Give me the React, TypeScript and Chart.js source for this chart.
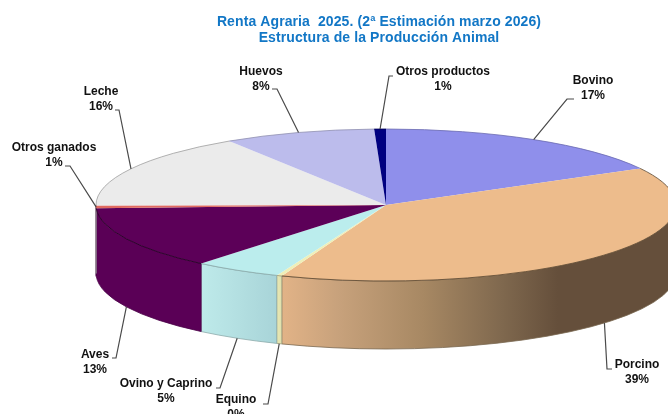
import React, { useEffect, useRef } from "react";
import { Chart, registerables } from "chart.js";

Chart.register(...registerables);

const categories = ["Bovino", "Porcino", "Equino", "Ovino y Caprino", "Aves", "Otros ganados", "Leche", "Huevos", "Otros productos"];
const shares = [17.0, 38.85, 0.3, 4.85, 13.3, 0.6, 16.0, 8.45, 0.65];
const shownPercent = ["17%", "39%", "0%", "5%", "13%", "1%", "16%", "8%", "1%"];
const titleLines = ["Renta Agraria  2025. (2ª Estimación marzo 2026)", "Estructura de la Producción Animal"];

const topColors = ["#8F8FEB", "#EDBC8C", "#EFEFB8", "#BBEDED", "#5C0058", "#E06A60", "#EBEBEB", "#BCBCEC", "#000080"];
const edgeColors = ["#6A6AB0", "#5A4630", "#A0A080", "#8AAAAA", "#200020", "#B05050", "#A0A0A0", "#9090B0", "#000050"];
const wallEdgeColors = ["#6A6AB0", "#7A6850", "#A0A080", "#8AAAAA", "#4A0048", "#4A0048", "#A0A0A0", "#9090B0", "#000050"];
const wallStops: string[][] = [
  ["#7A7AC8", "#7A7AC8"],
  ["#E2B387", "#C8A27C", "#A78863", "#7F684E", "#654F3B", "#654F3B"],
  ["#E8E8B4", "#E0E0AC"],
  ["#BEEAEA", "#A8D4D8"],
  ["#5A0056", "#5A0056"],
  ["#5A0056", "#5A0056"],
  ["#CCCCCC", "#CCCCCC"],
  ["#A0A0C8", "#A0A0C8"],
  ["#000060", "#000060"],
];
const wallStopAt: number[][] = [
  [0, 1], [0, 0.14, 0.36, 0.56, 0.7, 1], [0, 1], [0, 1], [0, 1], [0, 1], [0, 1], [0, 1], [0, 1],
];

// label centre (x, first line y) and the elbow of its leader line
const labelLayout = [
  { x: 593, y: 81, ex: 567, ey: 99, sx: 574 },
  { x: 637, y: 365, ex: 607, ey: 369, sx: 612 },
  { x: 236, y: 400, ex: 268, ey: 404, sx: 263 },
  { x: 166, y: 384, ex: 220, ey: 388, sx: 216 },
  { x: 95, y: 355, ex: 116, ey: 358, sx: 112 },
  { x: 54, y: 148, ex: 70, ey: 166, sx: 65 },
  { x: 101, y: 92, ex: 119, ey: 110, sx: 115 },
  { x: 261, y: 72, ex: 277, ey: 89, sx: 272 },
  { x: 443, y: 72, ex: 389, ey: 76, sx: 393 },
];

const RX = 290;
const RY = 76;
const DEPTH = 68;

const pie3d = {
  id: "pie3d",
  beforeDatasetDraw(chart: any) {
    const ctx = chart.ctx as CanvasRenderingContext2D;
    const arcs = chart.getDatasetMeta(0).data as any[];
    const cx = arcs[0].x;
    const cy = arcs[0].y;
    arcs.forEach((arc, i) => {
      const a0 = Math.max(arc.startAngle, 0);
      const a1 = Math.min(arc.endAngle, Math.PI);
      if (a1 <= a0) return;
      const xs = cx + RX * Math.cos(a0);
      const xe = cx + RX * Math.cos(a1);
      const g = ctx.createLinearGradient(Math.min(xs, xe), 0, Math.max(xs, xe), 0);
      wallStops[i].forEach((c, k) => g.addColorStop(wallStopAt[i][k], c));
      ctx.beginPath();
      ctx.ellipse(cx, cy + DEPTH, RX, RY, 0, a0, a1);
      ctx.ellipse(cx, cy, RX, RY, 0, a1, a0, true);
      ctx.closePath();
      ctx.fillStyle = g;
      ctx.fill();
      ctx.lineWidth = 0.8;
      ctx.strokeStyle = wallEdgeColors[i];
      ctx.stroke();
    });
    const r = arcs[0].outerRadius;
    ctx.save();
    ctx.translate(cx, cy);
    ctx.scale(RX / r, RY / r);
    ctx.translate(-cx, -cy);
  },
  afterDatasetDraw(chart: any) {
    const ctx = chart.ctx as CanvasRenderingContext2D;
    ctx.restore();
    const arcs = chart.getDatasetMeta(0).data as any[];
    const cx = arcs[0].x;
    const cy = arcs[0].y;
    arcs.forEach((arc, i) => {
      ctx.beginPath();
      ctx.ellipse(cx, cy, RX, RY, 0, arc.startAngle, arc.endAngle);
      ctx.lineWidth = 0.8;
      ctx.strokeStyle = edgeColors[i];
      ctx.stroke();
    });
  },
  afterDraw(chart: any) {
    const ctx = chart.ctx as CanvasRenderingContext2D;
    const arcs = chart.getDatasetMeta(0).data as any[];
    const cx = arcs[0].x;
    const cy = arcs[0].y;

    ctx.textAlign = "center";
    ctx.textBaseline = "middle";
    ctx.fillStyle = "#1277C6";
    ctx.font = "bold 14px 'Liberation Sans'";
    (ctx as any).letterSpacing = "0.1px";
    titleLines.forEach((t, i) => ctx.fillText(t, 379, 22 + i * 16));
    (ctx as any).letterSpacing = "0px";

    arcs.forEach((arc, i) => {
      const mid = (arc.startAngle + arc.endAngle) / 2;
      const ax = cx + RX * Math.cos(mid);
      const sin = Math.sin(mid);
      const ay = cy + RY * sin + (sin > 0.1 ? DEPTH : 0);
      const l = labelLayout[i];
      ctx.beginPath();
      ctx.moveTo(l.sx, l.ey);
      ctx.lineTo(l.ex, l.ey);
      ctx.lineTo(ax, ay);
      ctx.lineWidth = 1.2;
      ctx.strokeStyle = "#4A4A4A";
      ctx.stroke();

      ctx.fillStyle = "#111111";
      ctx.font = "bold 12px 'Liberation Sans'";
      ctx.fillText(categories[i], l.x, l.y);
      ctx.fillText(shownPercent[i], l.x, l.y + 15);
    });
  },
};

export default function App() {
  const ref = useRef<HTMLCanvasElement>(null);
  useEffect(() => {
    document.body.style.margin = "0";
    document.body.style.background = "#ffffff";
    const chart = new Chart(ref.current!, {
      type: "pie",
      data: {
        labels: categories,
        datasets: [{ data: shares, backgroundColor: topColors, borderWidth: 0, clip: false } as any],
      },
      options: {
        responsive: false,
        animation: false,
        layout: { padding: { left: 104, top: 0, right: 0, bottom: 4 } },
        plugins: { legend: { display: false }, tooltip: { enabled: false }, title: { display: false } },
      },
      plugins: [pie3d],
    });
    return () => chart.destroy();
  }, []);
  return <canvas ref={ref} width={668} height={414} style={{ display: "block" }} />;
}
